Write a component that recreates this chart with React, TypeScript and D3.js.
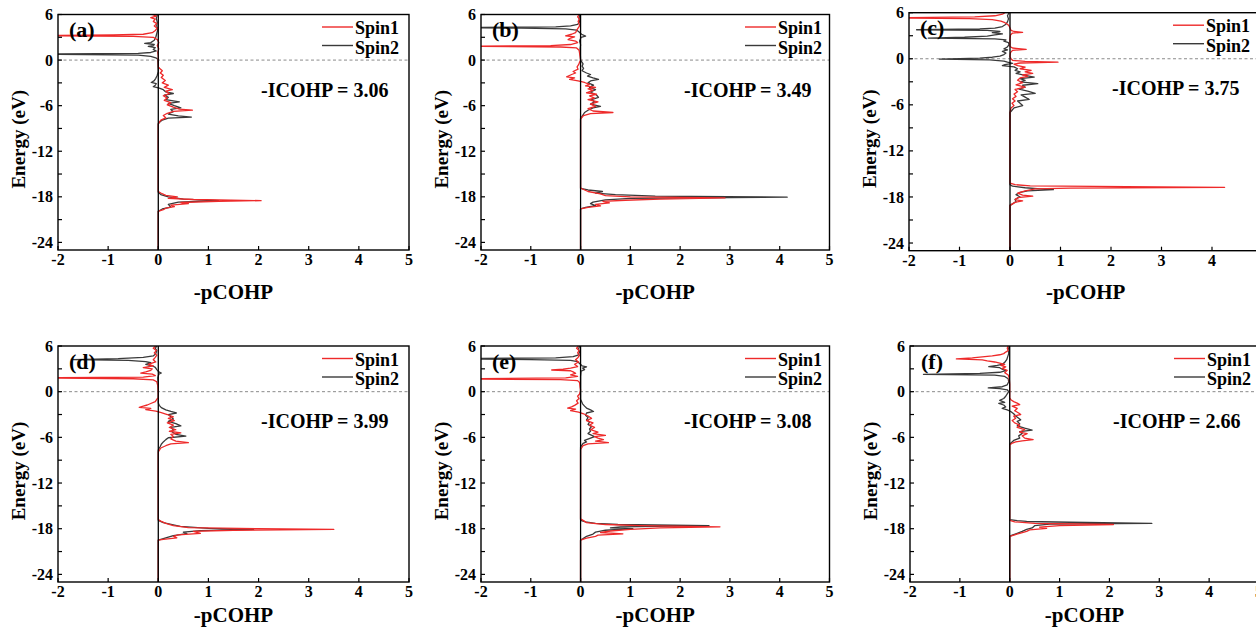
import React from "react";
import * as d3 from "d3";

type Pt = [number, number]; // [energy (eV), -pCOHP]

const panelLabels = ["(a)", "(b)", "(c)", "(d)", "(e)", "(f)"];
const icohpValues = [3.06, 3.49, 3.75, 3.99, 3.08, 2.66];
const seriesNames = ["Spin1", "Spin2"];
const xTicks = [-2, -1, 0, 1, 2, 3, 4, 5];
const yTickLabels = [6, 0, -6, -12, -18, -24];
const yTickMarks = [6, 3, 0, -3, -6, -9, -12, -15, -18, -21, -24];
const xDomain: [number, number] = [-2, 5];
const yDomain: [number, number] = [-25, 6];
const xTitle = "-pCOHP";
const yTitle = "Energy (eV)";

const aSpin1: Pt[] = [[6.0,-0.12],[5.8,-0.04],[5.6,-0.15],[5.4,-0.06],[5.1,-0.1],[4.8,-0.03],[4.5,-0.08],[4.2,-0.02],[3.9,-0.06],[3.6,-0.12],[3.4,-0.3],[3.3,-0.9],[3.22,-2.6],[3.12,-0.5],[3.0,-0.1],[2.7,-0.02],[2.3,0.01],[1.9,-0.02],[1.5,0.01],[1.0,-0.01],[0.5,0],[0,0],[-0.9,0],[-1.1,0.03],[-1.4,0.08],[-1.7,0.04],[-2.0,0.1],[-2.3,0.06],[-2.7,0.14],[-3.0,0.08],[-3.3,0.2],[-3.6,0.12],[-3.9,0.28],[-4.1,0.15],[-4.4,0.22],[-4.7,0.1],[-5.0,0.18],[-5.3,0.12],[-5.6,0.25],[-5.9,0.18],[-6.2,0.3],[-6.45,0.42],[-6.6,0.68],[-6.75,0.3],[-7.0,0.18],[-7.3,0.1],[-7.6,0.15],[-7.9,0.05],[-8.2,0.02],[-8.4,0],[-17.3,0],[-17.5,0.05],[-17.8,0.15],[-18.0,0.38],[-18.2,0.2],[-18.35,0.7],[-18.5,2.05],[-18.6,1.2],[-18.75,0.45],[-18.9,0.6],[-19.1,0.25],[-19.3,0.32],[-19.5,0.15],[-19.7,0.1],[-19.9,0],[-25,0]];
const aSpin2: Pt[] = [[6.0,-0.02],[5.5,-0.04],[5.0,-0.02],[4.5,-0.03],[4.0,-0.01],[3.5,-0.03],[3.0,-0.05],[2.6,-0.08],[2.3,-0.15],[2.2,-0.27],[2.05,-0.08],[1.9,-0.1],[1.8,-0.2],[1.65,-0.06],[1.4,-0.1],[1.2,-0.04],[1.0,-0.15],[0.88,-0.4],[0.78,-2.6],[0.65,-0.4],[0.5,-0.15],[0.3,-0.05],[0.1,-0.01],[-1.5,0],[-2.0,-0.02],[-2.4,-0.05],[-2.7,-0.08],[-2.95,-0.14],[-3.1,-0.04],[-3.3,-0.06],[-3.5,-0.1],[-3.7,0.02],[-3.9,0.1],[-4.2,0.15],[-4.4,0.3],[-4.6,0.12],[-4.9,0.2],[-5.2,0.15],[-5.5,0.42],[-5.7,0.2],[-6.0,0.32],[-6.3,0.45],[-6.5,0.25],[-6.8,0.3],[-7.1,0.2],[-7.35,0.4],[-7.5,0.66],[-7.65,0.2],[-7.9,0.08],[-8.2,0.02],[-8.4,0],[-17.4,0],[-17.7,0.05],[-18.0,0.2],[-18.3,0.5],[-18.5,1.2],[-18.7,0.4],[-19.0,0.2],[-19.35,0.25],[-19.6,0.08],[-19.9,0],[-25,0]];

const bSpin1: Pt[] = [[6.0,-0.03],[5.7,-0.06],[5.4,-0.02],[5.1,-0.05],[4.8,-0.03],[4.5,-0.02],[4.2,-0.05],[3.9,-0.08],[3.6,-0.1],[3.4,-0.18],[3.2,-0.3],[3.05,-0.12],[2.9,-0.2],[2.7,-0.25],[2.5,-0.1],[2.3,-0.06],[2.05,-0.2],[1.9,-0.6],[1.82,-2.6],[1.72,-0.4],[1.6,-0.08],[1.3,-0.03],[0.9,-0.02],[0.5,-0.01],[0,0],[-0.3,-0.02],[-0.6,-0.04],[-0.9,-0.07],[-1.2,-0.05],[-1.5,-0.15],[-1.7,-0.1],[-1.9,-0.18],[-2.2,-0.28],[-2.35,-0.12],[-2.55,-0.22],[-2.75,-0.05],[-2.95,0.08],[-3.2,0.18],[-3.4,0.1],[-3.6,0.3],[-3.8,0.15],[-4.0,0.25],[-4.3,0.12],[-4.5,0.32],[-4.7,0.18],[-5.0,0.28],[-5.2,0.15],[-5.5,0.35],[-5.8,0.2],[-6.1,0.3],[-6.4,0.15],[-6.7,0.25],[-6.9,0.65],[-7.05,0.2],[-7.3,0.06],[-7.6,0.02],[-7.8,0],[-16.8,0],[-17.0,0.05],[-17.3,0.15],[-17.6,0.4],[-17.85,0.5],[-18.0,1.0],[-18.15,2.9],[-18.3,1.6],[-18.45,0.9],[-18.6,0.45],[-18.8,0.58],[-19.0,0.3],[-19.2,0.4],[-19.4,0.15],[-19.6,0],[-25,0]];
const bSpin2: Pt[] = [[6.0,-0.02],[5.5,-0.03],[5.0,-0.02],[4.7,-0.06],[4.5,-0.2],[4.38,-0.5],[4.28,-2.6],[4.2,-1.2],[4.1,-0.3],[3.95,-0.08],[3.7,-0.03],[3.4,0.02],[3.15,0.1],[3.0,0.01],[2.5,-0.02],[2.0,0],[1.5,-0.01],[0,0],[-0.2,0.02],[-0.5,0.05],[-0.8,0.03],[-1.1,0.06],[-1.4,0.03],[-1.7,0.12],[-1.9,0.2],[-2.1,0.14],[-2.35,0.25],[-2.55,0.36],[-2.75,0.2],[-3.0,0.15],[-3.3,0.26],[-3.6,0.18],[-3.9,0.3],[-4.2,0.2],[-4.6,0.32],[-4.9,0.36],[-5.2,0.22],[-5.5,0.28],[-5.8,0.2],[-6.1,0.4],[-6.3,0.25],[-6.6,0.15],[-6.9,0.08],[-7.2,0.05],[-7.5,0.02],[-7.7,0],[-16.9,0],[-17.1,0.15],[-17.3,0.44],[-17.5,0.3],[-17.7,0.7],[-17.9,1.5],[-18.05,4.15],[-18.2,1.0],[-18.4,0.5],[-18.7,0.25],[-18.9,0.2],[-19.15,0.3],[-19.4,0.1],[-19.6,0],[-25,0]];

const cSpin1: Pt[] = [[6.0,-0.1],[5.8,-0.15],[5.6,-0.3],[5.45,-0.7],[5.32,-2.6],[5.22,-0.8],[5.1,-0.35],[4.9,-0.18],[4.7,-0.1],[4.5,-0.05],[4.3,-0.02],[4.0,0],[3.7,0.02],[3.55,0.08],[3.45,0.25],[3.35,0.05],[3.1,0.01],[2.5,0],[1.6,0],[1.4,0.05],[1.22,0.32],[1.1,0.05],[0.8,0.01],[0.3,0],[0,0.02],[-0.2,0.05],[-0.35,0.3],[-0.45,0.95],[-0.55,0.2],[-0.7,0.08],[-0.9,0.15],[-1.1,0.3],[-1.3,0.2],[-1.5,0.42],[-1.7,0.3],[-1.9,0.45],[-2.1,0.25],[-2.3,0.35],[-2.5,0.2],[-2.8,0.15],[-3.1,0.25],[-3.4,0.12],[-3.7,0.3],[-4.0,0.1],[-4.3,0.15],[-4.6,0.08],[-4.9,0.12],[-5.2,0.05],[-5.5,0.1],[-5.8,0.04],[-6.1,0.08],[-6.4,0.02],[-6.7,0.01],[-7.0,0],[-16.2,0],[-16.4,0.1],[-16.55,0.4],[-16.65,2.3],[-16.75,4.25],[-16.85,1.2],[-16.95,0.5],[-17.2,0.3],[-17.5,0.15],[-17.75,0.25],[-17.9,0.45],[-18.1,0.15],[-18.35,0.1],[-18.5,0.25],[-18.7,0.1],[-18.9,0.05],[-19.1,0],[-25,0]];
const cSpin2: Pt[] = [[6.0,-0.02],[5.6,-0.05],[5.2,-0.03],[4.8,-0.05],[4.5,-0.08],[4.2,-0.15],[4.0,-0.3],[3.88,-0.6],[3.78,-1.85],[3.7,-0.45],[3.55,-0.2],[3.4,-0.35],[3.25,-0.15],[3.1,-0.3],[2.95,-0.45],[2.8,-0.9],[2.7,-1.62],[2.6,-0.3],[2.45,-0.08],[2.3,-0.12],[2.1,-0.03],[1.8,-0.02],[1.5,-0.06],[1.3,-0.12],[1.15,-0.05],[0.95,-0.15],[0.75,-0.08],[0.55,-0.12],[0.35,-0.2],[0.2,-0.35],[0.08,-0.6],[-0.04,-1.4],[-0.15,-0.4],[-0.3,-0.12],[-0.45,-0.05],[-0.6,0.05],[-0.75,-0.1],[-0.9,-0.15],[-1.05,0.08],[-1.3,0.15],[-1.5,0.1],[-1.7,0.2],[-1.9,0.12],[-2.15,0.3],[-2.4,0.48],[-2.6,0.2],[-2.8,0.3],[-3.0,0.2],[-3.25,0.55],[-3.45,0.25],[-3.7,0.3],[-3.95,0.18],[-4.2,0.35],[-4.5,0.5],[-4.7,0.22],[-5.0,0.3],[-5.3,0.38],[-5.5,0.15],[-5.8,0.2],[-6.1,0.25],[-6.4,0.08],[-6.7,0.04],[-7.0,0],[-16.4,0],[-16.6,0.05],[-16.8,0.3],[-16.95,0.6],[-17.05,0.86],[-17.2,0.35],[-17.4,0.2],[-17.7,0.12],[-18.0,0.2],[-18.3,0.1],[-18.6,0.12],[-18.9,0.05],[-19.1,0],[-25,0]];

const dSpin1: Pt[] = [[6.0,-0.05],[5.7,-0.1],[5.4,-0.04],[5.1,-0.08],[4.8,-0.03],[4.5,-0.06],[4.2,-0.1],[3.9,-0.05],[3.6,-0.2],[3.4,-0.1],[3.15,-0.3],[3.0,-0.12],[2.8,-0.15],[2.6,-0.25],[2.45,-0.35],[2.3,-0.12],[2.1,-0.06],[1.92,-0.3],[1.8,-2.6],[1.7,-0.5],[1.55,-0.1],[1.3,-0.03],[0.8,-0.01],[0,0],[-0.8,0],[-1.0,-0.03],[-1.3,-0.06],[-1.55,-0.15],[-1.75,-0.22],[-1.9,-0.3],[-2.05,-0.38],[-2.2,-0.15],[-2.35,-0.25],[-2.55,-0.05],[-2.75,0.06],[-3.0,0.18],[-3.3,0.3],[-3.5,0.2],[-3.8,0.32],[-4.1,0.18],[-4.4,0.3],[-4.7,0.22],[-5.0,0.35],[-5.2,0.22],[-5.4,0.45],[-5.6,0.25],[-5.9,0.3],[-6.2,0.25],[-6.5,0.35],[-6.7,0.6],[-6.85,0.25],[-7.1,0.15],[-7.4,0.05],[-7.7,0.02],[-7.9,0],[-16.8,0],[-17.0,0.05],[-17.3,0.15],[-17.6,0.3],[-17.85,0.6],[-18.0,1.96],[-18.1,3.5],[-18.2,1.5],[-18.35,0.7],[-18.6,0.84],[-18.8,0.4],[-19.0,0.3],[-19.2,0.37],[-19.4,0.1],[-19.5,0],[-25,0]];
const dSpin2: Pt[] = [[6.0,-0.03],[5.7,-0.06],[5.4,-0.03],[5.0,-0.05],[4.7,-0.1],[4.5,-0.3],[4.35,-0.8],[4.22,-1.7],[4.1,-0.6],[3.95,-0.25],[3.8,-0.15],[3.6,-0.25],[3.4,-0.12],[3.2,-0.06],[2.9,-0.03],[2.6,0.01],[2.45,0.06],[2.3,0.01],[1.8,-0.01],[1.0,0],[0,0],[-1.5,0],[-1.8,0.02],[-2.1,0.06],[-2.4,0.15],[-2.6,0.25],[-2.8,0.36],[-3.0,0.2],[-3.3,0.25],[-3.6,0.3],[-3.9,0.2],[-4.2,0.35],[-4.5,0.45],[-4.7,0.25],[-5.0,0.3],[-5.3,0.28],[-5.6,0.35],[-5.85,0.55],[-6.05,0.2],[-6.3,0.15],[-6.6,0.1],[-6.9,0.06],[-7.2,0.04],[-7.5,0.01],[-7.7,0],[-16.9,0],[-17.2,0.1],[-17.5,0.3],[-17.7,0.44],[-17.95,1.0],[-18.1,1.9],[-18.25,0.84],[-18.45,0.5],[-18.65,0.57],[-18.9,0.3],[-19.1,0.2],[-19.4,0.05],[-19.5,0],[-25,0]];

const eSpin1: Pt[] = [[6.0,-0.04],[5.7,-0.08],[5.4,-0.03],[5.1,-0.06],[4.8,-0.02],[4.5,-0.05],[4.2,-0.1],[3.9,-0.04],[3.6,-0.12],[3.3,-0.06],[3.1,-0.2],[2.95,-0.35],[2.85,-0.58],[2.75,-0.2],[2.6,-0.15],[2.4,-0.1],[2.2,-0.2],[2.0,-0.06],[1.8,-0.3],[1.68,-2.6],[1.58,-0.4],[1.45,-0.06],[1.2,-0.02],[0.6,-0.01],[0.2,0],[-0.3,-0.02],[-0.6,-0.06],[-0.9,-0.03],[-1.2,-0.08],[-1.5,-0.05],[-1.8,-0.12],[-2.0,-0.18],[-2.15,-0.26],[-2.3,-0.1],[-2.5,-0.2],[-2.7,-0.04],[-2.9,0.06],[-3.2,0.15],[-3.5,0.22],[-3.8,0.12],[-4.1,0.25],[-4.4,0.18],[-4.7,0.28],[-5.0,0.2],[-5.3,0.35],[-5.5,0.25],[-5.75,0.5],[-5.9,0.28],[-6.1,0.35],[-6.3,0.46],[-6.5,0.3],[-6.7,0.56],[-6.85,0.15],[-7.1,0.05],[-7.4,0.02],[-7.6,0],[-16.7,0],[-16.9,0.05],[-17.2,0.12],[-17.45,0.5],[-17.6,1.2],[-17.75,2.8],[-17.9,1.6],[-18.1,1.0],[-18.3,0.6],[-18.5,0.4],[-18.67,0.85],[-18.85,0.35],[-19.0,0.3],[-19.25,0.12],[-19.5,0],[-25,0]];
const eSpin2: Pt[] = [[6.0,-0.02],[5.6,-0.04],[5.2,-0.02],[4.8,-0.05],[4.6,-0.15],[4.45,-0.5],[4.32,-2.6],[4.22,-1.0],[4.1,-0.2],[3.95,-0.06],[3.7,-0.02],[3.4,0.03],[3.25,0.12],[3.1,0.04],[2.9,0.08],[2.7,0.01],[2.0,0],[0,0],[-1.0,0],[-1.3,0.02],[-1.6,0.04],[-1.9,0.08],[-2.15,0.12],[-2.4,0.2],[-2.6,0.26],[-2.8,0.12],[-3.1,0.1],[-3.4,0.15],[-3.7,0.12],[-4.0,0.18],[-4.3,0.15],[-4.6,0.22],[-4.9,0.18],[-5.2,0.2],[-5.5,0.15],[-5.9,0.28],[-6.1,0.2],[-6.4,0.08],[-6.6,0.12],[-6.8,0.05],[-7.1,0.02],[-7.3,0],[-16.9,0],[-17.1,0.1],[-17.3,0.3],[-17.45,0.75],[-17.6,2.58],[-17.75,0.8],[-17.9,0.6],[-18.0,1.05],[-18.2,0.5],[-18.45,0.3],[-18.7,0.25],[-19.0,0.12],[-19.3,0.05],[-19.5,0],[-25,0]];

const fSpin1: Pt[] = [[6.0,-0.03],[5.7,-0.05],[5.4,-0.03],[5.2,-0.08],[5.0,-0.12],[4.85,-0.2],[4.7,-0.35],[4.55,-0.6],[4.45,-0.75],[4.3,-1.07],[4.18,-0.55],[4.05,-0.45],[3.9,-0.3],[3.75,-0.2],[3.6,-0.1],[3.45,-0.18],[3.25,-0.08],[3.05,-0.15],[2.8,-0.05],[2.5,-0.1],[2.2,-0.03],[1.8,-0.01],[1.0,0],[0,0],[-0.8,0],[-1.1,0.03],[-1.3,0.08],[-1.5,0.15],[-1.7,0.2],[-1.9,0.05],[-2.2,0.15],[-2.5,0.1],[-2.8,0.18],[-3.0,0.22],[-3.2,0.08],[-3.5,0.12],[-3.8,0.05],[-4.1,0.1],[-4.4,0.2],[-4.7,0.15],[-5.0,0.3],[-5.3,0.2],[-5.5,0.35],[-5.8,0.25],[-6.1,0.3],[-6.3,0.47],[-6.45,0.25],[-6.6,0.12],[-6.8,0.04],[-7.0,0],[-16.9,0],[-17.1,0.1],[-17.3,0.5],[-17.45,2.08],[-17.6,1.0],[-17.8,0.6],[-17.95,0.74],[-18.15,0.4],[-18.35,0.34],[-18.6,0.2],[-18.8,0.1],[-19.0,0],[-25,0]];
const fSpin2: Pt[] = [[6.0,-0.01],[5.5,-0.03],[5.0,-0.02],[4.6,-0.04],[4.2,-0.06],[3.85,-0.1],[3.6,-0.15],[3.45,-0.25],[3.3,-0.42],[3.15,-0.2],[2.95,-0.15],[2.75,-0.08],[2.55,-0.2],[2.4,-0.6],[2.28,-1.73],[2.18,-0.3],[2.0,-0.1],[1.7,-0.03],[1.3,-0.02],[0.9,-0.05],[0.65,-0.15],[0.5,-0.43],[0.4,-0.2],[0.25,-0.05],[0,-0.02],[-0.3,-0.05],[-0.6,-0.08],[-0.9,-0.12],[-1.15,-0.2],[-1.4,-0.1],[-1.55,-0.22],[-1.75,-0.12],[-2.0,-0.08],[-2.2,-0.15],[-2.4,-0.05],[-2.6,0.02],[-2.9,0.08],[-3.2,0.12],[-3.5,0.18],[-3.7,0.22],[-3.9,0.15],[-4.2,0.2],[-4.5,0.15],[-4.8,0.3],[-5.05,0.45],[-5.25,0.2],[-5.5,0.25],[-5.8,0.18],[-6.1,0.2],[-6.4,0.08],[-6.7,0.03],[-6.9,0],[-16.8,0],[-16.95,0.15],[-17.05,0.34],[-17.15,1.21],[-17.3,2.85],[-17.4,0.8],[-17.6,0.5],[-17.9,0.45],[-18.1,0.34],[-18.35,0.25],[-18.6,0.15],[-18.85,0.05],[-19.0,0],[-25,0]];

const spin1Data: Pt[][] = [aSpin1, bSpin1, cSpin1, dSpin1, eSpin1, fSpin1];
const spin2Data: Pt[][] = [aSpin2, bSpin2, cSpin2, dSpin2, eSpin2, fSpin2];

// layout (pixels)
const boxes = [
  { x: 58, y: 14.5, w: 351, h: 235.5, titleDy: 49 },
  { x: 481, y: 14.5, w: 348.5, h: 235.5, titleDy: 49 },
  { x: 909, y: 12.7, w: 353.5, h: 238, titleDy: 48 },
  { x: 58, y: 346, w: 351, h: 236, titleDy: 40 },
  { x: 481, y: 346, w: 348.5, h: 236, titleDy: 40 },
  { x: 910, y: 346, w: 349, h: 236, titleDy: 40 },
];

const COLORS = ["#ee2a2a", "#3a3a3a"];
const FONT = "'Liberation Serif', 'Times New Roman', serif";

function Panel({ i }: { i: number }) {
  const b = boxes[i];
  const x = d3.scaleLinear().domain(xDomain).range([b.x, b.x + b.w]);
  const y = d3.scaleLinear().domain(yDomain).range([b.y + b.h, b.y]);
  const line = d3
    .line<Pt>()
    .x((d) => x(d[1]))
    .y((d) => y(d[0]));
  const clipId = `clip-${i}`;
  const bottom = b.y + b.h;
  return (
    <g>
      <defs>
        <clipPath id={clipId}>
          <rect x={b.x} y={b.y} width={b.w} height={b.h} />
        </clipPath>
      </defs>
      <line x1={b.x} x2={b.x + b.w} y1={y(0)} y2={y(0)} stroke="#8a8a8a" strokeWidth={1} strokeDasharray="3,2.5" />
      <g clipPath={`url(#${clipId})`} fill="none" strokeLinejoin="round">
        <path d={line(spin2Data[i]) || ""} stroke={COLORS[1]} strokeWidth={1.3} />
        <path d={line(spin1Data[i]) || ""} stroke={COLORS[0]} strokeWidth={1.3} />
      </g>
      <line x1={x(0)} x2={x(0)} y1={b.y} y2={bottom} stroke="#000" strokeWidth={1.3} />
      <rect x={b.x} y={b.y} width={b.w} height={b.h} fill="none" stroke="#000" strokeWidth={1.4} />
      {yTickMarks.map((t) => (
        <line key={`yt${t}`} x1={b.x} x2={b.x + 4} y1={y(t)} y2={y(t)} stroke="#000" strokeWidth={1.2} />
      ))}
      {xTicks.map((t) => (
        <line key={`xt${t}`} x1={x(t)} x2={x(t)} y1={bottom} y2={bottom - 4} stroke="#000" strokeWidth={1.2} />
      ))}
      <g fontFamily={FONT} fontWeight="bold" fill="#000">
        {yTickLabels.map((t) => (
          <text key={`yl${t}`} x={b.x - 5} y={y(t)} dy="0.35em" textAnchor="end" fontSize={16}>
            {String(t)}
          </text>
        ))}
        {xTicks.map((t) => (
          <text key={`xl${t}`} x={x(t)} y={bottom + 15} textAnchor="middle" fontSize={16}>
            {String(t)}
          </text>
        ))}
        <text x={b.x + b.w / 2} y={bottom + b.titleDy} textAnchor="middle" fontSize={21}>
          {xTitle}
        </text>
        <text
          transform={`translate(${b.x - 33},${b.y + b.h / 2 + 7}) rotate(-90)`}
          textAnchor="middle"
          fontSize={19}
        >
          {yTitle}
        </text>
        <text x={b.x + 11} y={b.y + 22.5} fontSize={22}>
          {panelLabels[i]}
        </text>
        <text x={b.x + 203} y={b.y + 82} fontSize={20}>
          {`-ICOHP = ${icohpValues[i].toFixed(2)}`}
        </text>
        {seriesNames.map((n, k) => (
          <g key={n}>
            <line
              x1={b.x + 264}
              x2={b.x + 295}
              y1={b.y + 12.5 + k * 18.5}
              y2={b.y + 12.5 + k * 18.5}
              stroke={COLORS[k]}
              strokeWidth={1.4}
            />
            <text x={b.x + 297} y={b.y + 19.5 + k * 19.5} fontSize={18}>
              {n}
            </text>
          </g>
        ))}
      </g>
    </g>
  );
}

export default function App() {
  return (
    <svg
      width={1256}
      height={633}
      style={{ position: "absolute", left: 0, top: 0, background: "#fff" }}
    >
      <rect x={0} y={0} width={1256} height={633} fill="#fff" />
      {boxes.map((_, i) => (
        <Panel key={i} i={i} />
      ))}
    </svg>
  );
}
